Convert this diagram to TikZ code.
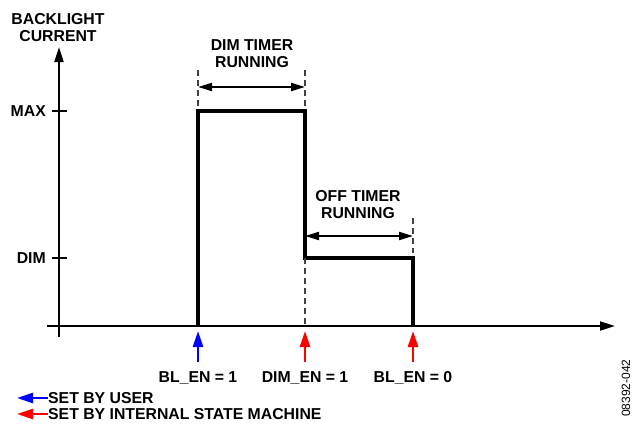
\documentclass[tikz,border=0pt]{standalone}
\usepackage{fontspec}
\setmainfont{Liberation Sans}
\usetikzlibrary{arrows.meta}

\begin{document}
\begin{tikzpicture}[x=1pt,y=-1pt,
  lbl/.style={font=\bfseries\fontsize{15.8}{17}\selectfont,align=center,inner sep=0pt},
  axis/.style={line width=2pt},
  pulse/.style={line width=3.3pt},
  guide/.style={line width=1.2pt,dash pattern=on 6pt off 4pt,black!75},
  span/.style={line width=2pt,{Triangle[length=14pt,width=8pt]}-{Triangle[length=14pt,width=8pt]}},
  event/.style={line width=2.6pt,-{Triangle[length=16pt,width=10pt]}}]
  \useasboundingbox (0,0) rectangle (639,426);
  % axes
  \coordinate (o) at (59,326);
  \coordinate (ytop) at (59,47);
  \coordinate (ybot) at (59,337);
  \coordinate (xleft) at (47,326);
  \coordinate (xright) at (615,326);
  \draw[axis,-{Triangle[length=15pt,width=9pt]}] (ybot) -- (ytop);
  \draw[axis,-{Triangle[length=15pt,width=9pt]}] (xleft) -- (xright);
  \node[lbl] (ylabel) at (58,28) {BACKLIGHT\\CURRENT};
  % levels
  \coordinate (tmax) at (59,111);
  \coordinate (tdim) at (59,258);
  \draw[axis] (tmax) +(-7,0) -- +(8,0);
  \draw[axis] (tdim) +(-7,0) -- +(8,0);
  \node[lbl,anchor=east] (max) at (46,111) {MAX};
  \node[lbl,anchor=east] (dim) at (46,258) {DIM};
  % current waveform
  \coordinate (p1) at (198,326);
  \coordinate (p2) at (198,111);
  \coordinate (p3) at (305,111);
  \coordinate (p4) at (305,258);
  \coordinate (p5) at (413,258);
  \coordinate (p6) at (413,326);
  \draw[pulse] (p1) -- (p2) -- (p3) -- (p4) -- (p5) -- (p6);
  % timer spans
  \draw[guide] (198,70) -- (198,106);
  \draw[guide] (305,70) -- (305,106);
  \draw[guide] (p4) -- (305,326);
  \draw[guide] (413,218) -- (413,253);
  \draw[span] (198,87) -- (305,87);
  \draw[span] (305,236) -- (413,236);
  \node[lbl] (dimtimer) at (252,54) {DIM TIMER\\RUNNING};
  \node[lbl] (offtimer) at (358,205) {OFF TIMER\\RUNNING};
  % events
  \draw[event,blue] (198,362) -- (198,331);
  \draw[event,red] (305,362) -- (305,331);
  \draw[event,red] (413,362) -- (413,331);
  \node[lbl] (ev1) at (198,378) {BL\_EN = 1};
  \node[lbl] (ev2) at (305,378) {DIM\_EN = 1};
  \node[lbl] (ev3) at (413,378) {BL\_EN = 0};
  % legend
  \node[lbl,anchor=west] (user) at (48,398) {SET BY USER};
  \node[lbl,anchor=west] (fsm) at (48,414) {SET BY INTERNAL STATE MACHINE};
  \draw[event,blue] (user.west) -- ++(-31,0);
  \draw[event,red] (fsm.west) -- ++(-31,0);
  \node[rotate=90,font=\fontsize{12}{12}\selectfont,inner sep=0pt] (fig) at (626,388) {08392-042};
\end{tikzpicture}
\end{document}
